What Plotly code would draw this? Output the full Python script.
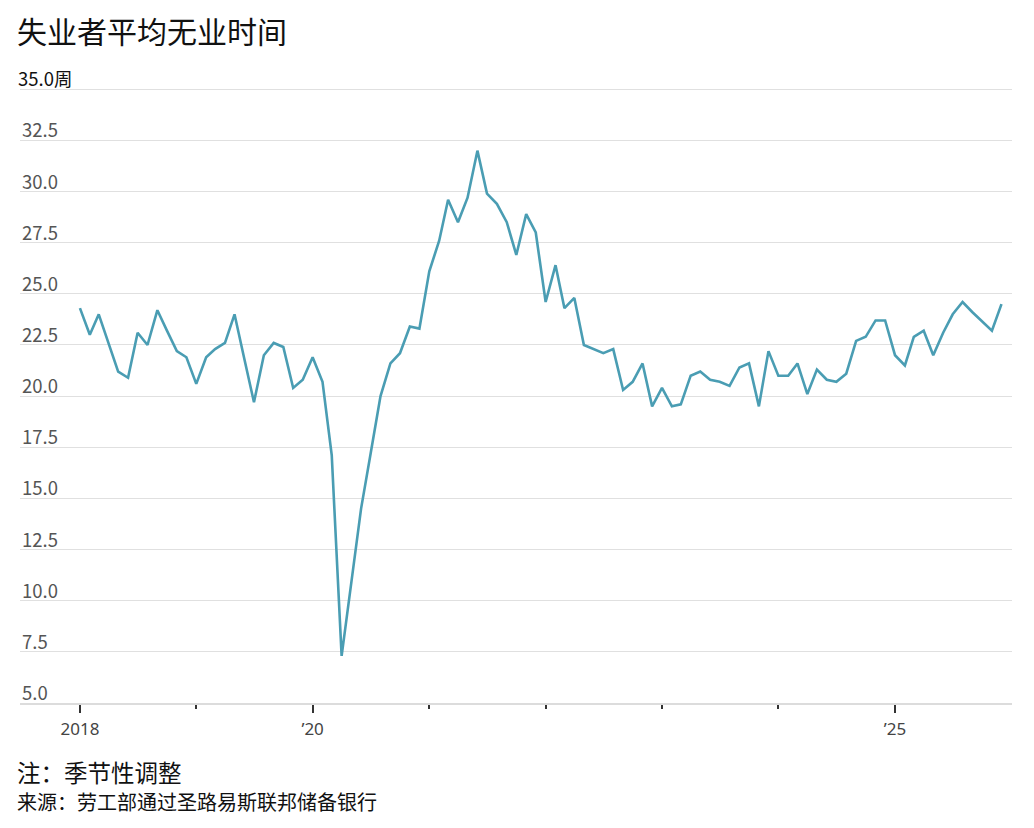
import plotly.graph_objects as go

# ---- data ----
months = [
    "2018-01", "2018-02", "2018-03", "2018-04", "2018-05", "2018-06",
    "2018-07", "2018-08", "2018-09", "2018-10", "2018-11", "2018-12",
    "2019-01", "2019-02", "2019-03", "2019-04", "2019-05", "2019-06",
    "2019-07", "2019-08", "2019-09", "2019-10", "2019-11", "2019-12",
    "2020-01", "2020-02", "2020-03", "2020-04", "2020-05", "2020-06",
    "2020-07", "2020-08", "2020-09", "2020-10", "2020-11", "2020-12",
    "2021-01", "2021-02", "2021-03", "2021-04", "2021-05", "2021-06",
    "2021-07", "2021-08", "2021-09", "2021-10", "2021-11", "2021-12",
    "2022-01", "2022-02", "2022-03", "2022-04", "2022-05", "2022-06",
    "2022-07", "2022-08", "2022-09", "2022-10", "2022-11", "2022-12",
    "2023-01", "2023-02", "2023-03", "2023-04", "2023-05", "2023-06",
    "2023-07", "2023-08", "2023-09", "2023-10", "2023-11", "2023-12",
    "2024-01", "2024-02", "2024-03", "2024-04", "2024-05", "2024-06",
    "2024-07", "2024-08", "2024-09", "2024-10", "2024-11", "2024-12",
    "2025-01", "2025-02", "2025-03", "2025-04", "2025-05", "2025-06",
    "2025-07", "2025-08", "2025-09", "2025-11", "2025-12",
]
weeks = [
    24.3, 23.0, 24.0, 22.6, 21.2, 20.9, 23.1, 22.5, 24.2, 23.2, 22.2, 21.9,
    20.6, 21.9, 22.3, 22.6, 24.0, 21.8, 19.7, 22.0, 22.6, 22.4, 20.4, 20.8,
    21.9, 20.7, 17.1, 7.3, 10.9, 14.5, 17.2, 20.0, 21.6, 22.1, 23.4, 23.3,
    26.1, 27.6, 29.6, 28.5, 29.7, 32.0, 29.9, 29.4, 28.5, 26.9, 28.9, 28.0,
    24.6, 26.4, 24.3, 24.8, 22.5, 22.3, 22.1, 22.3, 20.3, 20.7, 21.6, 19.5,
    20.4, 19.5, 19.6, 21.0, 21.2, 20.8, 20.7, 20.5, 21.4, 21.6, 19.5, 22.2,
    21.0, 21.0, 21.6, 20.1, 21.3, 20.8, 20.7, 21.1, 22.7, 22.9, 23.7, 23.7,
    22.0, 21.5, 22.9, 23.2, 22.0, 23.1, 24.0, 24.6, 24.1, 23.2, 24.5,
]
y_tick_vals = [5, 7.5, 10, 12.5, 15, 17.5, 20, 22.5, 25, 27.5, 30, 32.5, 35]
y_tick_text = ["5.0", "7.5", "10.0", "12.5", "15.0", "17.5", "20.0", "22.5",
               "25.0", "27.5", "30.0", "32.5", "35.0周"]
x_major_vals = ["2018-01-01", "2020-01-01", "2025-01-01"]
x_major_text = ["2018", "’20", "’25"]
x_minor_vals = ["2019-01-01", "2021-01-01", "2022-01-01", "2023-01-01", "2024-01-01"]

title_text = "失业者平均无业时间"
note_text = "注：季节性调整"
source_text = "来源：劳工部通过圣路易斯联邦储备银行"

FONT = "Noto Sans CJK SC"
LATIN = "Noto Sans"
LINE_COLOR = "#4a9db3"

fig = go.Figure()
fig.add_trace(go.Scatter(
    x=[m + "-01" for m in months], y=weeks, mode="lines",
    line=dict(color=LINE_COLOR, width=2.6), hoverinfo="x+y", showlegend=False,
))

annotations = []
for v, t in zip(y_tick_vals, y_tick_text):
    top = (v == y_tick_vals[-1])
    annotations.append(dict(
        text=t, xref="paper", yref="y", x=0, y=v, xshift=-4 if top else 0, yshift=11,
        xanchor="left", yanchor="middle", showarrow=False,
        font=dict(family=FONT, size=18.5, color="#111111" if top else "#555555"),
    ))

annotations += [
    dict(text=title_text, xref="paper", yref="paper", x=0, y=1, xshift=-5,
         yshift=47, xanchor="left", yanchor="middle", showarrow=False,
         font=dict(family=FONT, size=30, color="#111111")),
    dict(text=note_text, xref="paper", yref="paper", x=0, y=0, xshift=-5,
         yshift=-69, xanchor="left", yanchor="middle", showarrow=False,
         font=dict(family=FONT, size=23.5, color="#111111")),
    dict(text=source_text, xref="paper", yref="paper", x=0, y=0, xshift=-5,
         yshift=-98, xanchor="left", yanchor="middle", showarrow=False,
         font=dict(family=FONT, size=20, color="#111111")),
]

fig.update_layout(
    width=1018, height=812,
    margin=dict(l=12, r=14, t=68.7, b=117),
    paper_bgcolor="white", plot_bgcolor="white",
    font=dict(family=FONT, color="#444444", size=17),
    xaxis=dict(
        type="date",
        range=["2017-06-27", "2026-01-03"],
        tickmode="array", tickvals=x_major_vals, ticktext=x_major_text,
        ticks="outside", ticklen=8, tickwidth=1.5, tickcolor="#333333",
        showgrid=False, zeroline=False,
        showline=True, linecolor="#dcdcdc", linewidth=2,
        tickfont=dict(family=LATIN, size=17, color="#444444"),
        ticklabelstandoff=2,
        minor=dict(tickmode="array", tickvals=x_minor_vals, ticks="outside",
                   ticklen=4, tickwidth=1.5, tickcolor="#333333", showgrid=False),
    ),
    yaxis=dict(
        range=[5, 35.6],
        tickmode="array", tickvals=y_tick_vals, showticklabels=False,
        ticks="", showgrid=True, gridcolor="#e0e0e0", gridwidth=1.2,
        zeroline=False, showline=False,
    ),
    annotations=annotations,
)

fig.write_html("out.html")
